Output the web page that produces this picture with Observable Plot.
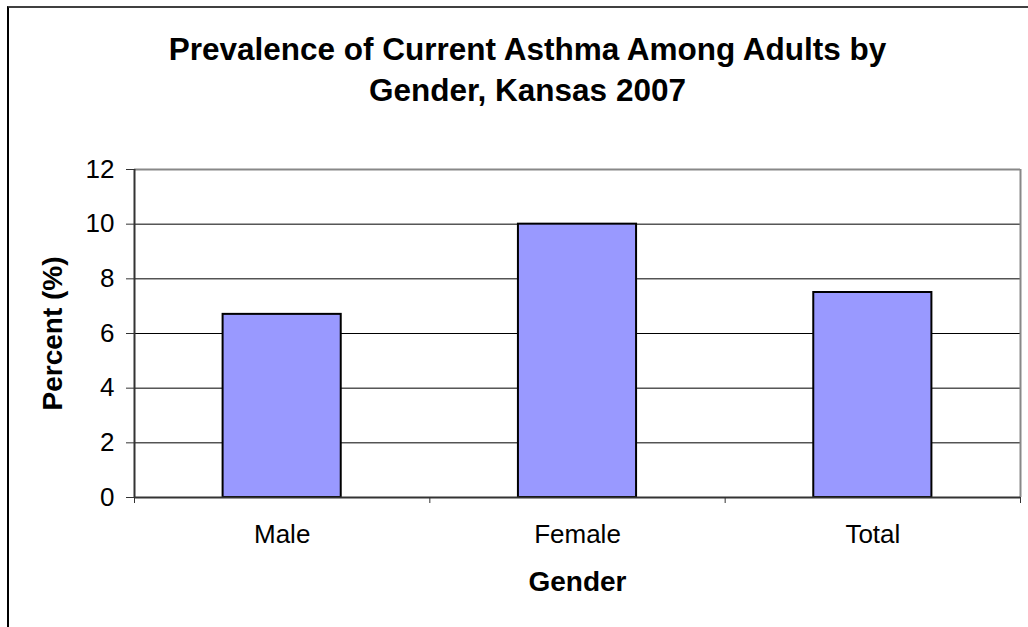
<!DOCTYPE html>
<html>
<head>
<meta charset="utf-8">
<script src="https://cdn.jsdelivr.net/npm/d3@7"></script>
<script src="https://cdn.jsdelivr.net/npm/@observablehq/plot@0.6"></script>
<style>
  html, body { margin: 0; padding: 0; background: #fff; }
  #chart {
    position: relative; width: 1028px; height: 627px; overflow: hidden;
    font-family: "Liberation Sans", Arial, sans-serif; background: #fff;
  }
  #frame {
    position: absolute; left: 7px; top: 6px; width: 1100px; height: 700px;
    border-top: 2px solid #404040; border-left: 2px solid #000;
  }
  #title {
    position: absolute; left: 0; top: 29px; width: 1028px; box-sizing: border-box;
    padding-left: 27px; text-align: center;
    font-weight: bold; font-size: 31.5px; line-height: 41px; color: #000;
  }
  #plot { position: absolute; left: 0; top: 0; }
  #plot svg { background: transparent; }
</style>
</head>
<body>
<div id="chart">
  <div id="frame"></div>
  <div id="title">Prevalence of Current Asthma Among Adults by<br>Gender, Kansas 2007</div>
  <div id="plot"></div>
</div>
<script>
// Current asthma prevalence among adults (%), Kansas 2007
const categories = ["Male", "Female", "Total"];
const percents = [6.7, 10.0, 7.5];
const yTicks = [0, 2, 4, 6, 8, 10, 12];

const rows = categories.map((gender, i) => ({gender, index: i, percent: percents[i]}));

// categories occupy unit slots on a linear x scale; bars fill the middle 40% of each slot
const chart = Plot.plot({
  width: 1028,
  height: 627,
  marginTop: 169,
  marginBottom: 130,
  marginLeft: 134,
  marginRight: 8,
  style: {fontFamily: "Liberation Sans, Arial, sans-serif", color: "#000", background: "transparent"},
  x: {type: "linear", domain: [0, categories.length]},
  y: {domain: [0, 12]},
  marks: [
    Plot.gridY(yTicks.filter(t => t > 0 && t < 12), {stroke: "#000", strokeOpacity: 1, strokeWidth: 1}),
    Plot.ruleY([12], {stroke: "#888", strokeWidth: 2}),
    Plot.ruleX([categories.length], {stroke: "#888", strokeWidth: 2}),
    Plot.rectY(rows, {
      x1: d => d.index + 0.3,
      x2: d => d.index + 0.7,
      y: "percent",
      fill: "#9999ff",
      stroke: "#000",
      strokeWidth: 2
    }),
    Plot.ruleY([0], {stroke: "#333", strokeWidth: 2}),
    Plot.ruleX([0], {stroke: "#333", strokeWidth: 2}),
    Plot.axisY({ticks: yTicks, tickSize: 8, tickPadding: 12, fontSize: 26, label: null, stroke: "#333"}),
    Plot.axisX({ticks: d3.range(categories.length + 1), tickSize: 6, tickFormat: () => "", label: null, stroke: "#333"}),
    Plot.axisX({
      ticks: categories.map((c, i) => i + 0.5),
      tickSize: 0,
      tickPadding: 27,
      fontSize: 26,
      tickFormat: v => categories[Math.floor(v)],
      label: null
    }),
    Plot.text(["Gender"], {frameAnchor: "bottom", dy: 85, lineAnchor: "middle", fontSize: 28, fontWeight: "bold"}),
    Plot.text(["Percent (%)"], {frameAnchor: "left", dx: -81, rotate: -90, textAnchor: "middle", lineAnchor: "middle", fontSize: 28, fontWeight: "bold"})
  ]
});
document.getElementById("plot").appendChild(chart);
</script>
</body>
</html>
